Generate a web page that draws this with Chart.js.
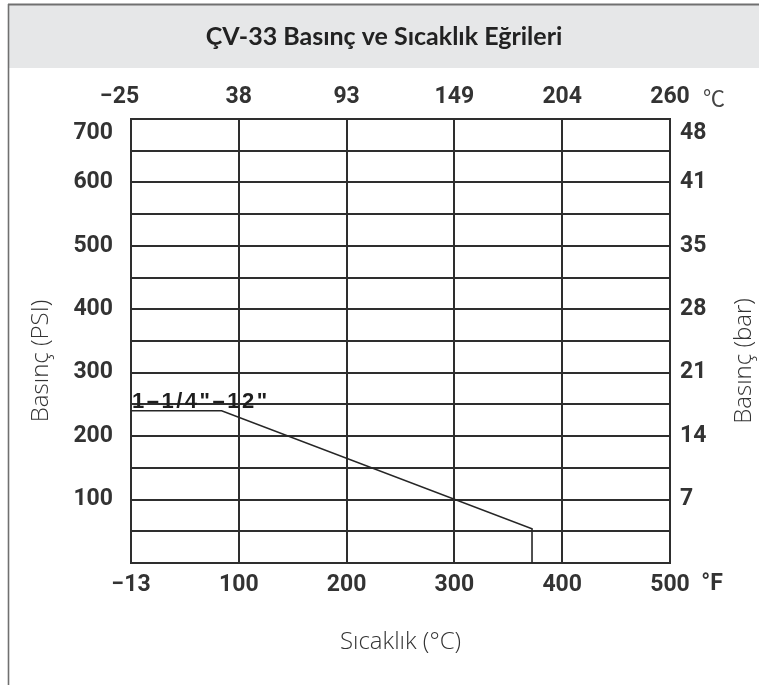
<!DOCTYPE html>
<html><head><meta charset="utf-8">
<script src="https://cdn.jsdelivr.net/npm/chart.js@4/dist/chart.umd.min.js"></script>
<style>html,body{margin:0;padding:0;background:#fff}canvas{display:block}</style>
</head><body>
<canvas id="c" width="759" height="685"></canvas>
<script>
// ---- data ----
const TITLE = 'ÇV-33 Basınç ve Sıcaklık Eğrileri';
const FAHRENHEIT_TICKS = [-13, 100, 200, 300, 400, 500];
const FAHRENHEIT_LABELS = ['−13', '100', '200', '300', '400', '500'];
const CELSIUS_LABELS = ['−25    ', '38', '93', '149', '204', '260'];
const PSI_TICKS = [100, 200, 300, 400, 500, 600, 700];
const BAR_LABELS = ['7', '14', '21', '28', '35', '41', '48'];
const PSI_GRID_STEP = 50;
const CURVE_LABEL = '1–1/4"–12"';
const CURVE_TEMP_F = [-13, 82, 372, 372];
const CURVE_PSI = [240, 240, 54, 0];

// ---- styles ----
const GRID = '#2e2e2e';
const TICK_COLOR = '#333';
const TICK_FONT = { family: "Roboto, 'DejaVu Sans Condensed', sans-serif", size: 23, weight: 'bold' };
const AXIS_TITLE_FONT = { family: "'Open Sans', sans-serif", size: 24, weight: '300' };

// nomogram-style x scale: the tick values are equally spaced
function frac(v) {
  const t = FAHRENHEIT_TICKS, n = t.length - 1;
  for (let i = 0; i < n; i++) {
    if (v <= t[i + 1] || i === n - 1) return (i + (v - t[i]) / (t[i + 1] - t[i])) / n;
  }
}
function unfrac(f) {
  const t = FAHRENHEIT_TICKS, n = t.length - 1;
  let i = Math.min(n - 1, Math.max(0, Math.floor(f * n)));
  return t[i] + (f * n - i) * (t[i + 1] - t[i]);
}
class NomoScale extends Chart.LinearScale {
  getPixelForValue(v) { return v === null ? NaN : this.getPixelForDecimal(frac(v)); }
  getValueForPixel(p) { return unfrac(this.getDecimalForPixel(p)); }
}
NomoScale.id = 'nomo';
NomoScale.defaults = Chart.LinearScale.defaults;
Chart.register(NomoScale);

const fTicks = s => { s.ticks = FAHRENHEIT_TICKS.map(v => ({ value: v })); };
const psiTicks = s => { s.ticks = []; for (let v = 0; v <= 700; v += PSI_GRID_STEP) s.ticks.push({ value: v }); };
const psiLabel = (v, arr) => {
  const i = PSI_TICKS.indexOf(v);
  if (i < 0) return '';
  return v === 700 ? ['', arr[i]] : arr[i];
};
const fontStr = f => `${f.weight} ${f.size}px ${f.family}`;

const framePlugin = {
  id: 'frame',
  beforeDraw(chart) {
    const ctx = chart.ctx;
    ctx.save();
    ctx.fillStyle = '#fff';
    ctx.fillRect(0, 0, chart.width, chart.height);
    ctx.fillStyle = '#e6e7e8';
    ctx.fillRect(9, 5, 750, 63);
    ctx.strokeStyle = '#707070';
    ctx.lineWidth = 2;
    ctx.beginPath(); ctx.moveTo(8, 4.5); ctx.lineTo(759, 4.5); ctx.stroke();
    ctx.lineWidth = 1.6;
    ctx.beginPath(); ctx.moveTo(8.5, 4); ctx.lineTo(8.5, 685); ctx.stroke();
    ctx.restore();
  },
  afterDraw(chart) {
    const ctx = chart.ctx, a = chart.chartArea;
    const x = chart.scales.x, y = chart.scales.y;
    ctx.save();
    // units
    ctx.fillStyle = '#444';
    ctx.textAlign = 'center';
    ctx.textBaseline = 'middle';
    ctx.font = "normal 22px 'Noto Sans CJK SC', sans-serif";
    ctx.fillText('℃', a.right + 44, a.top - 21);
    ctx.fillStyle = TICK_COLOR;
    ctx.font = fontStr(TICK_FONT);
    ctx.fillText('°F', a.right + 42, a.bottom + 21);
    // vertical axis titles
    ctx.font = fontStr(AXIS_TITLE_FONT);
    ctx.fillStyle = '#333';
    [['Basınç (PSI)', 41], ['Basınç (bar)', 744]].forEach(([t, cx]) => {
      ctx.save();
      ctx.translate(cx, (a.top + a.bottom) / 2 + 20);
      ctx.rotate(-Math.PI / 2);
      ctx.fillText(t, 0, 0);
      ctx.restore();
    });
    // curve label
    ctx.font = "bold 22px 'Liberation Sans', Arial, sans-serif";
    ctx.letterSpacing = '2.5px';
    ctx.fillStyle = '#1e1e1e';
    ctx.textAlign = 'left';
    ctx.textBaseline = 'alphabetic';
    ctx.fillText(CURVE_LABEL, x.getPixelForValue(CURVE_TEMP_F[0]) + 1, y.getPixelForValue(CURVE_PSI[0]) - 3);
    ctx.restore();
  }
};

new Chart(document.getElementById('c'), {
  type: 'line',
  data: {
    datasets: [{
      data: CURVE_TEMP_F.map((t, i) => ({ x: t, y: CURVE_PSI[i] })),
      borderColor: '#262626',
      borderWidth: 1.6,
      pointRadius: 0,
      tension: 0,
      fill: false
    }]
  },
  options: {
    responsive: false,
    animation: false,
    layout: { padding: { left: 9, right: 0, top: 0, bottom: 0 } },
    plugins: {
      legend: { display: false },
      tooltip: { enabled: false },
      title: {
        display: true, text: TITLE, color: '#222',
        font: { family: "Lato, 'Open Sans', sans-serif", size: 25, weight: 'bold' },
        padding: { top: 22, bottom: 16 }
      }
    },
    scales: {
      x: {
        type: 'nomo', position: 'bottom', min: -13, max: 500,
        afterBuildTicks: fTicks,
        afterFit: s => { s.height = 122; },
        grid: { color: GRID, lineWidth: 2, drawTicks: false },
        border: { color: GRID, width: 2 },
        ticks: { font: TICK_FONT, color: TICK_COLOR, padding: 8, maxRotation: 0, autoSkip: false,
                 callback: (v) => FAHRENHEIT_LABELS[FAHRENHEIT_TICKS.indexOf(v)] },
        title: { display: true, text: 'Sıcaklık (°C)', font: AXIS_TITLE_FONT, color: '#333', padding: { top: 0, bottom: 28 } }
      },
      x2: {
        type: 'nomo', position: 'top', axis: 'x', min: -13, max: 500,
        afterBuildTicks: fTicks,
        afterFit: s => { s.height = 51; },
        grid: { display: false, drawTicks: false },
        border: { color: GRID, width: 2 },
        ticks: { font: TICK_FONT, color: TICK_COLOR, padding: 8, maxRotation: 0, autoSkip: false,
                 callback: (v) => CELSIUS_LABELS[FAHRENHEIT_TICKS.indexOf(v)] }
      },
      y: {
        type: 'linear', position: 'left', min: 0, max: 700,
        afterBuildTicks: psiTicks,
        afterFit: s => { s.width = 122; },
        grid: { color: GRID, lineWidth: 2, drawTicks: false },
        border: { color: GRID, width: 2 },
        ticks: { font: TICK_FONT, color: TICK_COLOR, padding: 18, autoSkip: false,
                 callback: v => psiLabel(v, PSI_TICKS.map(String)) }
      },
      y2: {
        type: 'linear', position: 'right', axis: 'y', min: 0, max: 700,
        afterBuildTicks: psiTicks,
        afterFit: s => { s.width = 89; },
        grid: { display: false, drawTicks: false },
        border: { color: GRID, width: 2 },
        ticks: { font: TICK_FONT, color: TICK_COLOR, padding: 10, autoSkip: false,
                 callback: v => psiLabel(v, BAR_LABELS) }
      }
    }
  },
  plugins: [framePlugin]
});
</script>
</body></html>
